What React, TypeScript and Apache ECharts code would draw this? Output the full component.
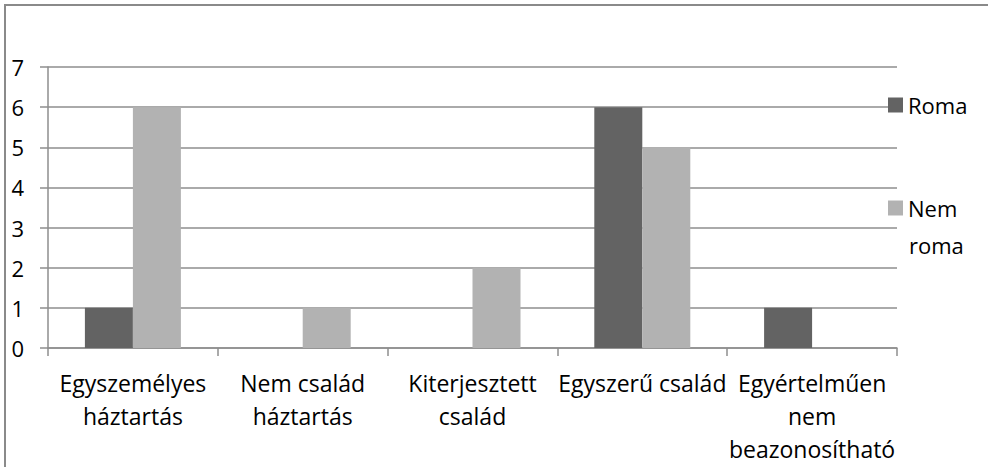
import React, { useEffect, useRef } from "react";
import * as echarts from "echarts";

const categories = [
  "Egyszemélyes\nháztartás",
  "Nem család\nháztartás",
  "Kiterjesztett\ncsalád",
  "Egyszerű család",
  "Egyértelműen\nnem\nbeazonosítható",
];
const romaValues = [1, 0, 0, 6, 1];
const nemRomaValues = [6, 1, 2, 5, 0];
const seriesNames = ["Roma", "Nem roma"];
const yTicks = { min: 0, max: 7, interval: 1 };

const FONT = "'Open Sans', 'Noto Sans', sans-serif";
const DARK = "#636363";
const LIGHT = "#b2b2b2";
const GRID = "#8e8e8e";

export default function App() {
  const ref = useRef<HTMLDivElement>(null);
  useEffect(() => {
    document.body.style.margin = "0";
    const chart = echarts.init(ref.current!, null, { renderer: "svg" });
    chart.setOption({
      animation: false,
      backgroundColor: "#ffffff",
      textStyle: { fontFamily: FONT },
      grid: { left: 48, right: 91, top: 67, bottom: 119, containLabel: false },
      legend: [
        {
          data: [seriesNames[0]],
          orient: "vertical",
          left: 888,
          top: 94,
          itemWidth: 15,
          itemHeight: 15,
          itemGap: 0,
          padding: 0,
          icon: "rect",
          selectedMode: false,
          textStyle: { fontFamily: FONT, fontSize: 22, color: "#000" },
        },
        {
          data: [seriesNames[1]],
          orient: "vertical",
          left: 888,
          top: 197,
          itemWidth: 15,
          itemHeight: 15,
          itemGap: 0,
          padding: 0,
          icon: "rect",
          selectedMode: false,
          formatter: () => "Nem",
          textStyle: { fontFamily: FONT, fontSize: 22, color: "#000" },
        },
      ],
      graphic: [
        {
          type: "text",
          left: 909,
          top: 234,
          style: { text: "roma", fontFamily: FONT, fontSize: 22, fill: "#000" },
        },
        {
          type: "line",
          shape: { x1: 4, y1: 5, x2: 988, y2: 5 },
          style: { stroke: "#8a8a8a", lineWidth: 2 },
        },
        {
          type: "line",
          shape: { x1: 5, y1: 5, x2: 5, y2: 467 },
          style: { stroke: "#8a8a8a", lineWidth: 2 },
        },
      ],
      xAxis: {
        type: "category",
        data: categories,
        boundaryGap: true,
        axisLine: { show: true, lineStyle: { color: GRID, width: 1.5 } },
        axisTick: { show: true, alignWithLabel: false, length: 8, lineStyle: { color: GRID, width: 1.5 } },
        axisLabel: {
          interval: 0,
          margin: 18,
          fontFamily: FONT,
          fontSize: 23,
          lineHeight: 33,
          color: "#000",
          align: "center",
        },
        splitLine: { show: false },
      },
      yAxis: {
        type: "value",
        min: yTicks.min,
        max: yTicks.max,
        interval: yTicks.interval,
        axisLine: { show: true, lineStyle: { color: GRID, width: 1.5 } },
        axisTick: { show: true, length: 8, lineStyle: { color: GRID, width: 1.5 } },
        axisLabel: {
          margin: 24,
          fontFamily: FONT,
          fontSize: 22,
          color: "#000",
          align: "right",
        },
        splitLine: { show: true, lineStyle: { color: GRID, width: 1.5 } },
      },
      series: [
        {
          name: seriesNames[0],
          type: "bar",
          data: romaValues,
          barWidth: 48,
          barGap: "0%",
          itemStyle: { color: DARK },
        },
        {
          name: seriesNames[1],
          type: "bar",
          data: nemRomaValues,
          barWidth: 48,
          barGap: "0%",
          itemStyle: { color: LIGHT },
        },
      ],
    });
    return () => chart.dispose();
  }, []);
  return (
    <div
      ref={ref}
      style={{ position: "fixed", left: 0, top: 0, width: 988, height: 467 }}
    />
  );
}
